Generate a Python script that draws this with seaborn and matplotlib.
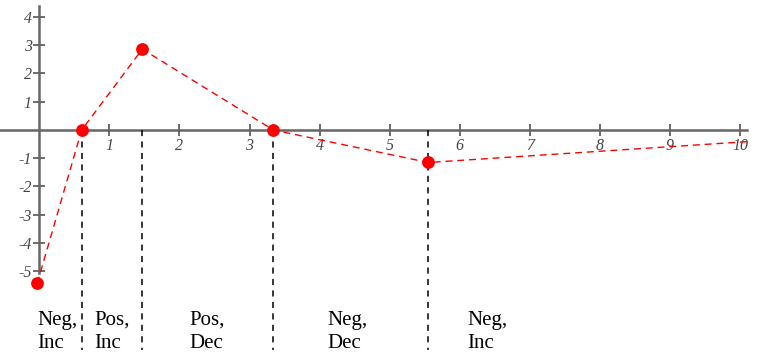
import matplotlib
matplotlib.use("Agg")
import matplotlib.pyplot as plt
import seaborn as sns
import pandas as pd

# Data
pt_x = [-0.03, 0.605, 1.47, 3.34, 5.55]
pt_y = [-5.43, 0.0, 2.86, 0.0, -1.15]
line_end_x = [10.12]
line_end_y = [-0.41]
boundaries = [0.605, 1.47, 3.34, 5.55]
region_labels = ["Neg,\nInc", "Pos,\nInc", "Pos,\nDec", "Neg,\nDec", "Neg,\nInc"]
region_x = [-0.03, 0.78, 2.14, 4.11, 6.11]
x_ticks = [1, 2, 3, 4, 5, 6, 7, 8, 9, 10]
y_ticks = [-5, -4, -3, -2, -1, 1, 2, 3, 4]

sns.set_theme(style="white")
plt.rcParams["axes.unicode_minus"] = False
plt.rcParams["font.family"] = ["Liberation Serif", "DejaVu Serif"]

fig = plt.figure(figsize=(7.61, 3.6), dpi=100)
ax = fig.add_axes([0, 0, 1, 1])
ax.set_xlim(-0.561, 10.30)
ax.set_ylim(-8.14, 4.60)

line_df = pd.DataFrame({"x": pt_x + line_end_x, "y": pt_y + line_end_y})
pts_df = pd.DataFrame({"x": pt_x, "y": pt_y})

# vertical dashed boundaries
for b in boundaries:
    ax.plot([b, b], [0, -7.8], color="black", lw=1.1, dashes=(4, 3.5), zorder=2)

sns.lineplot(data=line_df, x="x", y="y", ax=ax, color="red", lw=1.0,
             dashes=False, sort=False, estimator=None, zorder=3)
ax.lines[-1].set_dashes((5, 3.5))
sns.scatterplot(data=pts_df, x="x", y="y", ax=ax, color="red", s=85,
                edgecolor="red", linewidth=0, zorder=4)

# axes through origin
for side in ["top", "right"]:
    ax.spines[side].set_visible(False)
ax.spines["left"].set_position(("data", 0))
ax.spines["bottom"].set_position(("data", 0))
ax.spines["left"].set_bounds(-5.05, 4.4)
ax.spines["bottom"].set_bounds(-0.561, 10.10)
for side in ["left", "bottom"]:
    ax.spines[side].set_color("#666666")
    ax.spines[side].set_linewidth(1.8)
    ax.spines[side].set_zorder(1)

ax.set_xticks(x_ticks)
ax.set_yticks(y_ticks)
ax.set_xticklabels([str(t) for t in x_ticks])
ax.set_yticklabels([str(t) for t in y_ticks])
ax.tick_params(axis="both", direction="inout", length=9, width=1.1,
               color="#444444", labelcolor="#444444", labelsize=11.5, pad=1,
               bottom=True, left=True)
for lab in ax.get_xticklabels() + ax.get_yticklabels():
    lab.set_fontstyle("italic")
ax.set_xlabel("")
ax.set_ylabel("")
ax.grid(False)

for lx, lt in zip(region_x, region_labels):
    ax.text(lx, -7.15, lt, ha="left", va="center", fontsize=15,
            color="black", linespacing=1.3)

fig.savefig("out.png", dpi=100)
